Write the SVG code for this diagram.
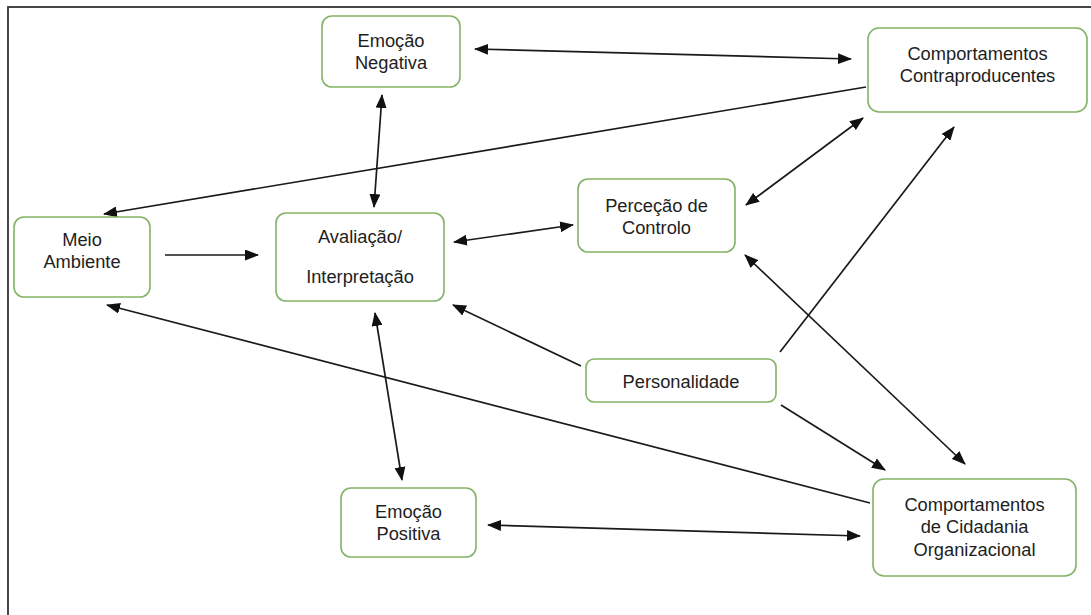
<svg xmlns="http://www.w3.org/2000/svg" width="1091" height="615" viewBox="0 0 1091 615">
<style>
.node rect{fill:#ffffff;stroke:#82b366;stroke-width:1.6}
.node text{font-family:"Liberation Sans",Arial,sans-serif;font-size:18.3px;fill:#1e1e1e;text-anchor:middle}
.edge{stroke:#1a1a1a;stroke-width:1.7;fill:none}
.one{marker-end:url(#ah)}
.two{marker-start:url(#ah);marker-end:url(#ah)}
</style>
<defs>
<marker id="ah" viewBox="0 0 14 11" refX="13" refY="5.5" markerWidth="14" markerHeight="11" markerUnits="userSpaceOnUse" orient="auto-start-reverse">
<path d="M0,0 L14,5.5 L0,11 z" fill="#111111"/>
</marker>
</defs>
<rect x="0" y="0" width="1091" height="615" fill="#ffffff"/>
<rect x="8" y="7" width="1100" height="630" fill="none" stroke="#333333" stroke-width="1.8"/>
<g id="connectors">
<line class="edge two" x1="475" y1="49" x2="851" y2="59"/>
<line class="edge one" x1="866" y1="87" x2="104" y2="214"/>
<line class="edge two" x1="382" y1="95" x2="374" y2="207"/>
<line class="edge one" x1="165" y1="255" x2="258" y2="255"/>
<line class="edge two" x1="454" y1="242" x2="573" y2="225"/>
<line class="edge two" x1="746" y1="205" x2="863" y2="118"/>
<line class="edge one" x1="780" y1="352" x2="954" y2="127"/>
<line class="edge two" x1="745" y1="255" x2="965" y2="464"/>
<line class="edge one" x1="581" y1="366" x2="453" y2="305"/>
<line class="edge one" x1="781" y1="405" x2="885" y2="470"/>
<line class="edge one" x1="870" y1="503" x2="107" y2="305"/>
<line class="edge two" x1="375" y1="313" x2="402" y2="480"/>
<line class="edge two" x1="488" y1="525" x2="860" y2="536"/>
</g>
<g id="emocao-negativa" class="node">
<rect x="322" y="16" width="138" height="71" rx="10"/>
<text x="391" y="47">Emoção</text>
<text x="391" y="69">Negativa</text>
</g>
<g id="comportamentos-contraproducentes" class="node">
<rect x="868" y="28" width="219" height="84" rx="11"/>
<text x="977.5" y="60">Comportamentos</text>
<text x="977.5" y="82">Contraproducentes</text>
</g>
<g id="meio-ambiente" class="node">
<rect x="14" y="217" width="136" height="80" rx="10"/>
<text x="82" y="246">Meio</text>
<text x="82" y="268">Ambiente</text>
</g>
<g id="avaliacao" class="node">
<rect x="276" y="213" width="168" height="88" rx="10"/>
<text x="360" y="243">Avaliação/</text>
<text x="360" y="283">Interpretação</text>
</g>
<g id="percecao-controlo" class="node">
<rect x="578" y="179" width="157" height="73" rx="10"/>
<text x="656.5" y="212">Perceção de</text>
<text x="656.5" y="234">Controlo</text>
</g>
<g id="personalidade" class="node">
<rect x="586" y="359" width="190" height="43" rx="8"/>
<text x="681" y="388">Personalidade</text>
</g>
<g id="emocao-positiva" class="node">
<rect x="341" y="488" width="135" height="69" rx="10"/>
<text x="408.5" y="518">Emoção</text>
<text x="408.5" y="540">Positiva</text>
</g>
<g id="comportamentos-cidadania" class="node">
<rect x="873" y="479" width="203" height="97" rx="11"/>
<text x="974.5" y="511">Comportamentos</text>
<text x="974.5" y="533">de Cidadania</text>
<text x="974.5" y="556">Organizacional</text>
</g>
</svg>
